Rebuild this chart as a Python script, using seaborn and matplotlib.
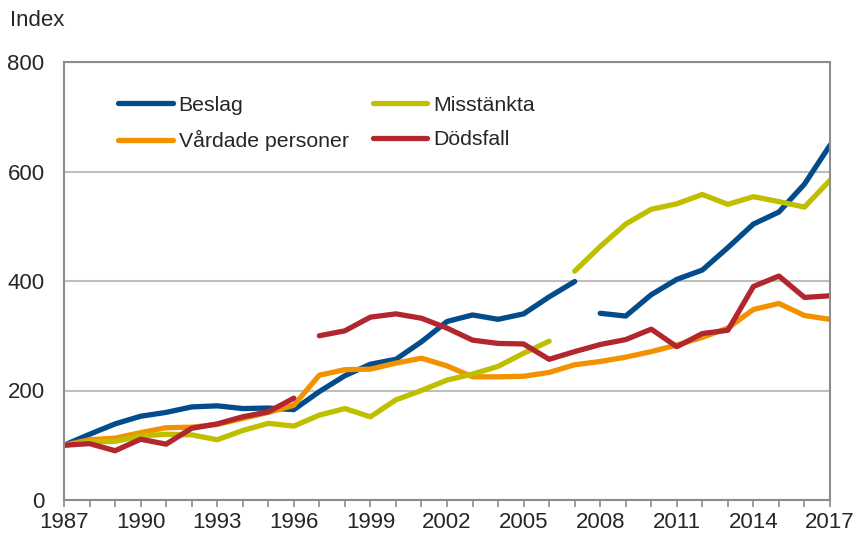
import numpy as np
import pandas as pd
import matplotlib
matplotlib.use("Agg")
import matplotlib.pyplot as plt
from matplotlib.ticker import MultipleLocator
import seaborn as sns

years = list(range(1987, 2018))
beslag = [100, 120, 139, 153, 160, 170, 172, 167, 168, 165, 198, 227, 248, 257, 289,
          326, 338, 330, 340, 371, 399, 341, 336, 375, 403, 420, 461, 504, 526, 577, 648]
misstankta = [100, 106, 107, 117, 120, 119, 110, 127, 140, 135, 155, 167, 152, 183, 200,
              219, 230, 244, 268, 290, 418, 463, 504, 531, 541, 558, 540, 554, 545, 535, 584]
vardade = [100, 110, 113, 123, 132, 133, 138, 149, 160, 173, 228, 238, 239, 250, 259,
           245, 225, 225, 226, 233, 247, 253, 261, 271, 283, 297, 314, 348, 359, 337, 330]
dodsfall = [100, 103, 90, 111, 102, 131, 139, 152, 161, 186, 300, 309, 334, 340, 332,
            314, 292, 286, 285, 257, 271, 284, 293, 312, 280, 304, 310, 390, 409, 370, 373]
# first year of a new (unconnected) line segment for each series
breaks = {"Beslag": 2008, "Misstänkta": 2007, "Vårdade personer": None, "Dödsfall": 1997}
series_names = ["Beslag", "Vårdade personer", "Misstänkta", "Dödsfall"]
series_values = {"Beslag": beslag, "Misstänkta": misstankta,
                 "Vårdade personer": vardade, "Dödsfall": dodsfall}
colors = {"Beslag": "#034C8C", "Misstänkta": "#BFBF00",
          "Vårdade personer": "#F39200", "Dödsfall": "#B2262E"}
x_ticks = list(range(1987, 2018, 3))
y_ticks = [0, 200, 400, 600, 800]

rows = []
for name in series_names:
    for yr, v in zip(years, series_values[name]):
        b = breaks[name]
        seg = 1 if (b is not None and yr >= b) else 0
        rows.append({"year": yr, "value": v, "series": name, "seg": f"{name}-{seg}"})
df = pd.DataFrame(rows)

sns.set_theme(style="white")
plt.rcParams["font.family"] = ["Liberation Sans", "DejaVu Sans"]

fig = plt.figure(figsize=(8.56, 5.36), dpi=100)
ax = fig.add_axes([64 / 856, 1 - 500 / 536, 766 / 856, 438 / 536])

sns.lineplot(data=df, x="year", y="value", hue="series", units="seg", estimator=None,
             hue_order=series_names, palette=colors, linewidth=3.8, ax=ax,
             solid_capstyle="round", legend=True)

ax.set_xlim(1987, 2017)
ax.set_ylim(0, 800)
ax.set_xticks(x_ticks)
ax.xaxis.set_minor_locator(MultipleLocator(1))
ax.set_yticks(y_ticks)
ax.set_xlabel("")
ax.set_ylabel("")
ax.yaxis.grid(True, color="#BEBEBE", linewidth=1.5)
ax.set_axisbelow(True)
for sp in ax.spines.values():
    sp.set_color("#8C8C8C")
    sp.set_linewidth(1.5)
ax.tick_params(axis="x", which="both", direction="out", length=5, width=1.2,
               color="#8C8C8C", labelsize=16, pad=4, bottom=True)
ax.tick_params(axis="y", length=0, labelsize=16, pad=14)

leg = ax.legend(loc="upper left", bbox_to_anchor=(0.071, 0.923), ncol=2, frameon=False,
                fontsize=15.3, handlelength=2.55, handletextpad=0.28, columnspacing=1.15,
                labelspacing=0.72, borderpad=0, borderaxespad=0)
for line in leg.get_lines():
    line.set_linewidth(3.8)
    line.set_solid_capstyle("round")

fig.text(10 / 856, 1 - 20 / 536, "Index", fontsize=16, va="center", ha="left")

fig.savefig("out.png", dpi=100)
